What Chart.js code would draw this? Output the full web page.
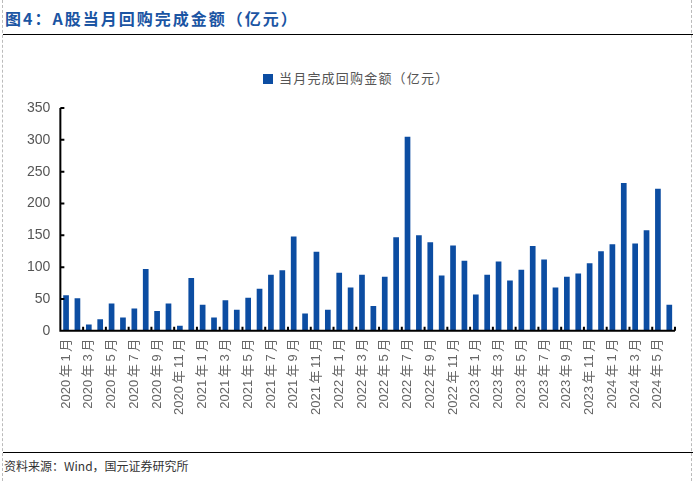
<head>
    <script src="https://cdn.jsdelivr.net/npm/chart.js@4.4.0/dist/chart.umd.min.js"></script>
    <style>
        body { margin: 0; width: 693px; height: 481px; background: #fff; position: relative; overflow: hidden; }
        #title {
            position: absolute; left: 5px; top: 6px;
            font: bold 16px "Noto Sans CJK SC", sans-serif; letter-spacing: 2px;
            color: #1b55a3;
        }
        #topline { position: absolute; left: 3px; width: 690px; top: 34px; border-top: 1.5px solid #000; }
        #botline { position: absolute; left: 3px; width: 690px; top: 452px; border-top: 1.5px solid #000; }
        #lborder { position: absolute; left: 2px; top: 0; height: 481px; border-left: 1px dashed #bbb; }
        #rborder { position: absolute; left: 691px; top: 0; height: 481px; border-left: 1px dashed #bbb; }
        #source {
            position: absolute; left: 4px; top: 457px;
            font: 12px "Noto Sans CJK SC", sans-serif; color: #333;
        }
        #legend {
            position: absolute; left: 263px; top: 68px;
            font: 13px "Noto Sans CJK SC", sans-serif; color: #555; letter-spacing: 1.2px;
        }
        #legend span {
            display: inline-block; width: 10px; height: 10px; background: #0c4da2;
            margin-right: 6px; vertical-align: -1px;
        }
        #chartContainer { position: absolute; left: 0; top: 40px; width: 693px; height: 410px; }
    </style>
</head>

<body>
    <div id="lborder"></div>
    <div id="rborder"></div>
    <div id="title">图4：A股当月回购完成金额（亿元）</div>
    <div id="topline"></div>
    <div id="legend"><span></span>当月完成回购金额（亿元）</div>
    <div id="chartContainer">
        <canvas id="myChart"></canvas>
    </div>
    <div id="botline"></div>
    <div id="source">资料来源：Wind，国元证券研究所</div>
</body>

<script>
    // months 2020-01 .. 2024-06
    var years = [2020, 2021, 2022, 2023, 2024];
    var months = [];
    years.forEach(function (y) {
        for (var m = 1; m <= 12; m++) {
            if (y === 2024 && m > 6) break;
            months.push(y + '年' + m + '月');
        }
    });

    // 当月完成回购金额（亿元）
    var buyback = [
        56, 51, 10, 18, 43, 21, 35, 97, 31, 43, 8, 83,
        41, 21, 48, 33, 52, 66, 88, 95, 148, 27, 124, 33,
        91, 68, 88, 39, 85, 147, 305, 150, 139, 87, 134, 110,
        57, 88, 109, 79, 96, 133, 112, 68, 85, 90, 106, 125,
        136, 232, 137, 158, 223, 41
    ];

    var yTicks = [0, 50, 100, 150, 200, 250, 300, 350];

    // inward tick marks on both axes
    var innerTicks = {
        id: 'innerTicks',
        afterDraw: function (chart) {
            var c = chart.ctx, xs = chart.scales.x, ys = chart.scales.y;
            var bottom = ys.getPixelForValue(0), left = xs.left;
            c.save();
            c.strokeStyle = '#000';
            c.lineWidth = 2;
            c.beginPath();
            // axis lines
            c.moveTo(left, ys.getPixelForValue(350));
            c.lineTo(left, bottom);
            c.lineTo(xs.right, bottom);
            yTicks.forEach(function (v) {
                var y = ys.getPixelForValue(v);
                c.moveTo(left, y);
                c.lineTo(left + 4, y);
            });
            for (var i = 2; i < months.length; i += 2) {
                var x = (xs.getPixelForValue(i) + xs.getPixelForValue(i - 1)) / 2;
                c.moveTo(x, bottom);
                c.lineTo(x, bottom - 4);
            }
            c.moveTo(xs.right, bottom);
            c.lineTo(xs.right, bottom - 4);
            c.stroke();
            c.restore();
        }
    };

    var ctx = document.getElementById('myChart').getContext('2d');
    var myChart = new Chart(ctx, {
        type: 'bar',
        data: {
            labels: months,
            datasets: [{
                label: '当月完成回购金额（亿元）',
                data: buyback,
                backgroundColor: '#0c4da2',
                categoryPercentage: 0.5,
                barPercentage: 1.0
            }]
        },
        options: {
            animation: false,
            responsive: true,
            maintainAspectRatio: false,
            layout: { padding: { left: 17, right: 11, top: 68, bottom: 27 } },
            plugins: {
                legend: { display: false },
                tooltip: { enabled: false }
            },
            scales: {
                x: {
                    grid: { display: false, drawTicks: false },
                    border: { display: false },
                    ticks: {
                        autoSkip: false, maxRotation: 90, minRotation: 90, padding: 8,
                        color: '#666', font: { size: 13, family: '"Liberation Sans", "Noto Sans CJK SC", sans-serif' },
                        // spaced out a little like the original labels
                        callback: function (v, i) {
                            return i % 2 === 0 ? months[i].replace('年', '\u2009年\u2009').replace('月', '\u2009月') : '';
                        }
                    }
                },
                y: {
                    min: 0, max: 350,
                    afterBuildTicks: function (axis) { axis.ticks = yTicks.map(function (v) { return { value: v }; }); },
                    grid: { display: false, drawTicks: false },
                    border: { display: false },
                    ticks: {
                        padding: 10, color: '#555',
                        font: { size: 14, family: '"Liberation Sans", sans-serif' }
                    }
                }
            }
        },
        plugins: [innerTicks]
    });
</script>
